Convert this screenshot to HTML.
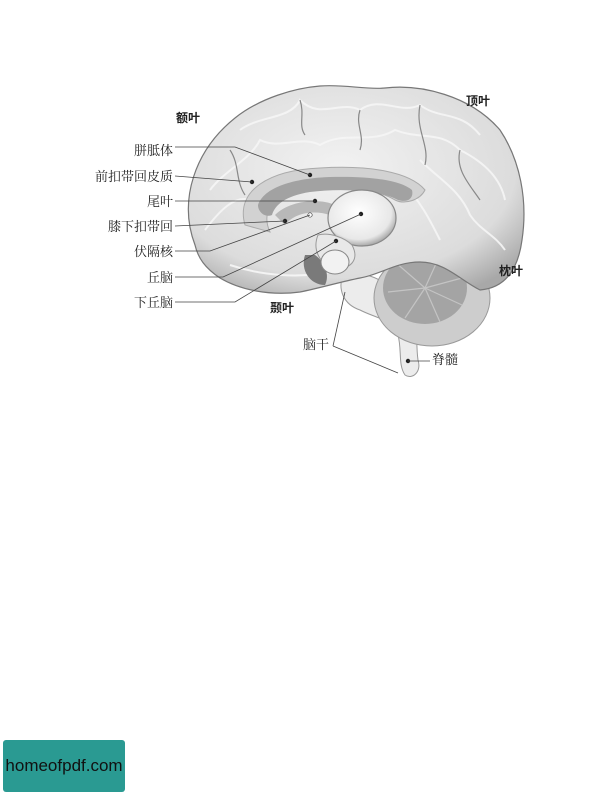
<!DOCTYPE html>
<html><head><meta charset="utf-8"><style>
html,body{margin:0;padding:0;background:#fff;}
#wrap{position:relative;width:612px;height:792px;overflow:hidden;background:#fff;}
svg{position:absolute;left:0;top:0;}
.t{font-family:"Liberation Serif","Noto Serif CJK SC",serif;font-size:13px;fill:#222;}
.b{font-family:"Liberation Sans","Noto Sans CJK SC",sans-serif;font-size:12px;font-weight:bold;fill:#222;}
#logo{position:absolute;left:3px;top:740px;width:122px;height:52px;background:#2a9a92;border-radius:3px;font-family:"Liberation Sans Narrow","Liberation Sans",sans-serif;font-size:17px;color:#111;line-height:52px;text-align:center;}
</style></head><body>
<div id="wrap">
<svg width="612" height="792" viewBox="0 0 612 792">
<defs>
<radialGradient id="g1" cx="45%" cy="40%" r="70%"><stop offset="0" stop-color="#f2f2f2"/><stop offset="0.75" stop-color="#dcdcdc"/><stop offset="1" stop-color="#a8a8a8"/></radialGradient>
<radialGradient id="g2" cx="45%" cy="40%" r="60%"><stop offset="0" stop-color="#ffffff"/><stop offset="0.8" stop-color="#e8e8e8"/><stop offset="1" stop-color="#aaa"/></radialGradient>
</defs>
<!-- brainstem -->
<path d="M345,270 C335,290 345,305 360,310 C375,318 395,320 398,335 C402,350 398,365 405,375 C412,380 422,372 418,360 C415,340 420,320 410,305 C400,290 380,275 345,270Z" fill="#ececec" stroke="#999" stroke-width="1"/>
<!-- cerebellum -->
<g>
<ellipse cx="432" cy="298" rx="58" ry="48" fill="#cdcdcd" stroke="#999"/>
<ellipse cx="425" cy="288" rx="42" ry="36" fill="#a4a4a4"/>
<g stroke="#c4c4c4" stroke-width="1.2">
<line x1="425" y1="288" x2="395" y2="262"/><line x1="425" y1="288" x2="440" y2="255"/><line x1="425" y1="288" x2="462" y2="278"/>
<line x1="425" y1="288" x2="462" y2="305"/><line x1="425" y1="288" x2="440" y2="322"/><line x1="425" y1="288" x2="405" y2="318"/><line x1="425" y1="288" x2="388" y2="292"/>
</g></g>
<!-- cerebrum -->
<path d="M195,245 C178,200 195,150 235,118 C260,98 295,88 320,86 C345,84 365,90 385,88 C420,84 470,95 500,130 C520,160 528,200 522,240 C518,270 505,288 480,290 C460,280 445,262 420,262 C395,262 380,275 360,278 C340,282 320,288 300,292 C270,296 240,290 220,278 C205,268 198,258 195,245Z" fill="url(#g1)" stroke="#777" stroke-width="1.2"/>
<g fill="none" stroke="#f6f6f6" stroke-width="2" opacity="0.9">
<path d="M240,130 C260,115 290,120 300,100 C320,120 340,100 360,110 C380,95 400,115 420,105 C440,120 460,110 480,135"/>
<path d="M210,190 C225,170 250,160 260,140 C280,150 300,135 320,145 C345,130 370,145 395,130 C420,140 440,130 460,150 C480,160 500,175 505,200"/>
<path d="M205,230 C220,210 235,195 250,200"/>
<path d="M420,160 C440,180 460,190 470,215 C480,230 495,235 505,250"/>
<path d="M400,180 C420,200 430,220 440,240"/>
<path d="M230,265 C260,275 300,280 340,270"/>
</g>
<g fill="none" stroke="#888" stroke-width="1.2">
<path d="M300,100 C305,115 298,125 305,135"/><path d="M360,110 C355,125 365,135 360,150"/>
<path d="M420,105 C415,130 430,145 425,165"/><path d="M460,150 C455,170 470,185 480,200"/>
<path d="M230,150 C240,165 235,180 245,195"/>
</g>
<!-- cingulate -->
<path d="M245,225 C235,190 270,170 320,168 C370,165 410,172 425,190 C420,200 405,205 395,200 C370,185 320,185 290,192 C270,198 262,215 270,232Z" fill="#d2d2d2" stroke="#aaa"/>
<path d="M258,205 C265,185 300,178 330,177 C370,176 400,180 412,190 C414,198 408,203 398,200 C380,190 340,188 310,192 C285,196 275,205 272,215 C265,218 258,212 258,205Z" fill="#a2a2a2"/>
<path d="M275,215 C290,200 320,198 335,205 L330,215 C315,210 295,212 285,225Z" fill="#b8b8b8"/>
<!-- thalamus -->
<ellipse cx="362" cy="218" rx="34" ry="28" fill="url(#g2)" stroke="#888" stroke-width="1.2"/>
<path d="M318,235 C312,250 320,265 335,268 C350,270 360,260 352,245 C345,238 330,232 318,235Z" fill="#e8e8e8" stroke="#999"/>
<path d="M305,255 C300,270 310,285 325,285 C330,275 325,262 315,255Z" fill="#7a7a7a"/>
<ellipse cx="335" cy="262" rx="14" ry="12" fill="#f2f2f2" stroke="#888"/>
<!-- dots -->
<g fill="#222">
<circle cx="310" cy="175" r="2.2"/><circle cx="252" cy="182" r="2.2"/><circle cx="315" cy="201" r="2.2"/>
<circle cx="285" cy="221" r="2.2"/><circle cx="361" cy="214" r="2.2"/><circle cx="336" cy="241" r="2.2"/>
<circle cx="408" cy="361" r="2.2"/>
</g>
<circle cx="310" cy="215" r="2.2" fill="#fff" stroke="#444" stroke-width="0.7"/>
<!-- leader lines -->
<g fill="none" stroke="#444" stroke-width="0.8">
<path d="M175,147 L235,147 L310,175"/>
<path d="M175,176 L252,182"/>
<path d="M175,201 L315,201"/>
<path d="M175,226 L285,221"/>
<path d="M175,251 L210,251 L310,215"/>
<path d="M175,277 L223,277 L361,214"/>
<path d="M175,302 L235,302 L336,241"/>
<path d="M333,346 L345,292"/>
<path d="M333,346 L398,373"/>
<path d="M408,361 L430,361"/>
</g>
<!-- labels -->
<text class="b" x="176" y="122">额叶</text>
<text class="b" x="466" y="105">顶叶</text>
<text class="b" x="499" y="275">枕叶</text>
<text class="b" x="270" y="312">颞叶</text>
<text class="t" x="173" y="155" text-anchor="end">胼胝体</text>
<text class="t" x="173" y="181" text-anchor="end">前扣带回皮质</text>
<text class="t" x="173" y="206" text-anchor="end">尾叶</text>
<text class="t" x="173" y="231" text-anchor="end">膝下扣带回</text>
<text class="t" x="173" y="256" text-anchor="end">伏隔核</text>
<text class="t" x="173" y="282" text-anchor="end">丘脑</text>
<text class="t" x="173" y="307" text-anchor="end">下丘脑</text>
<text class="t" x="303" y="349">脑干</text>
<text class="t" x="432" y="364">脊髓</text>
</svg>
<div id="logo">homeofpdf.com</div>
</div>
</body></html>
